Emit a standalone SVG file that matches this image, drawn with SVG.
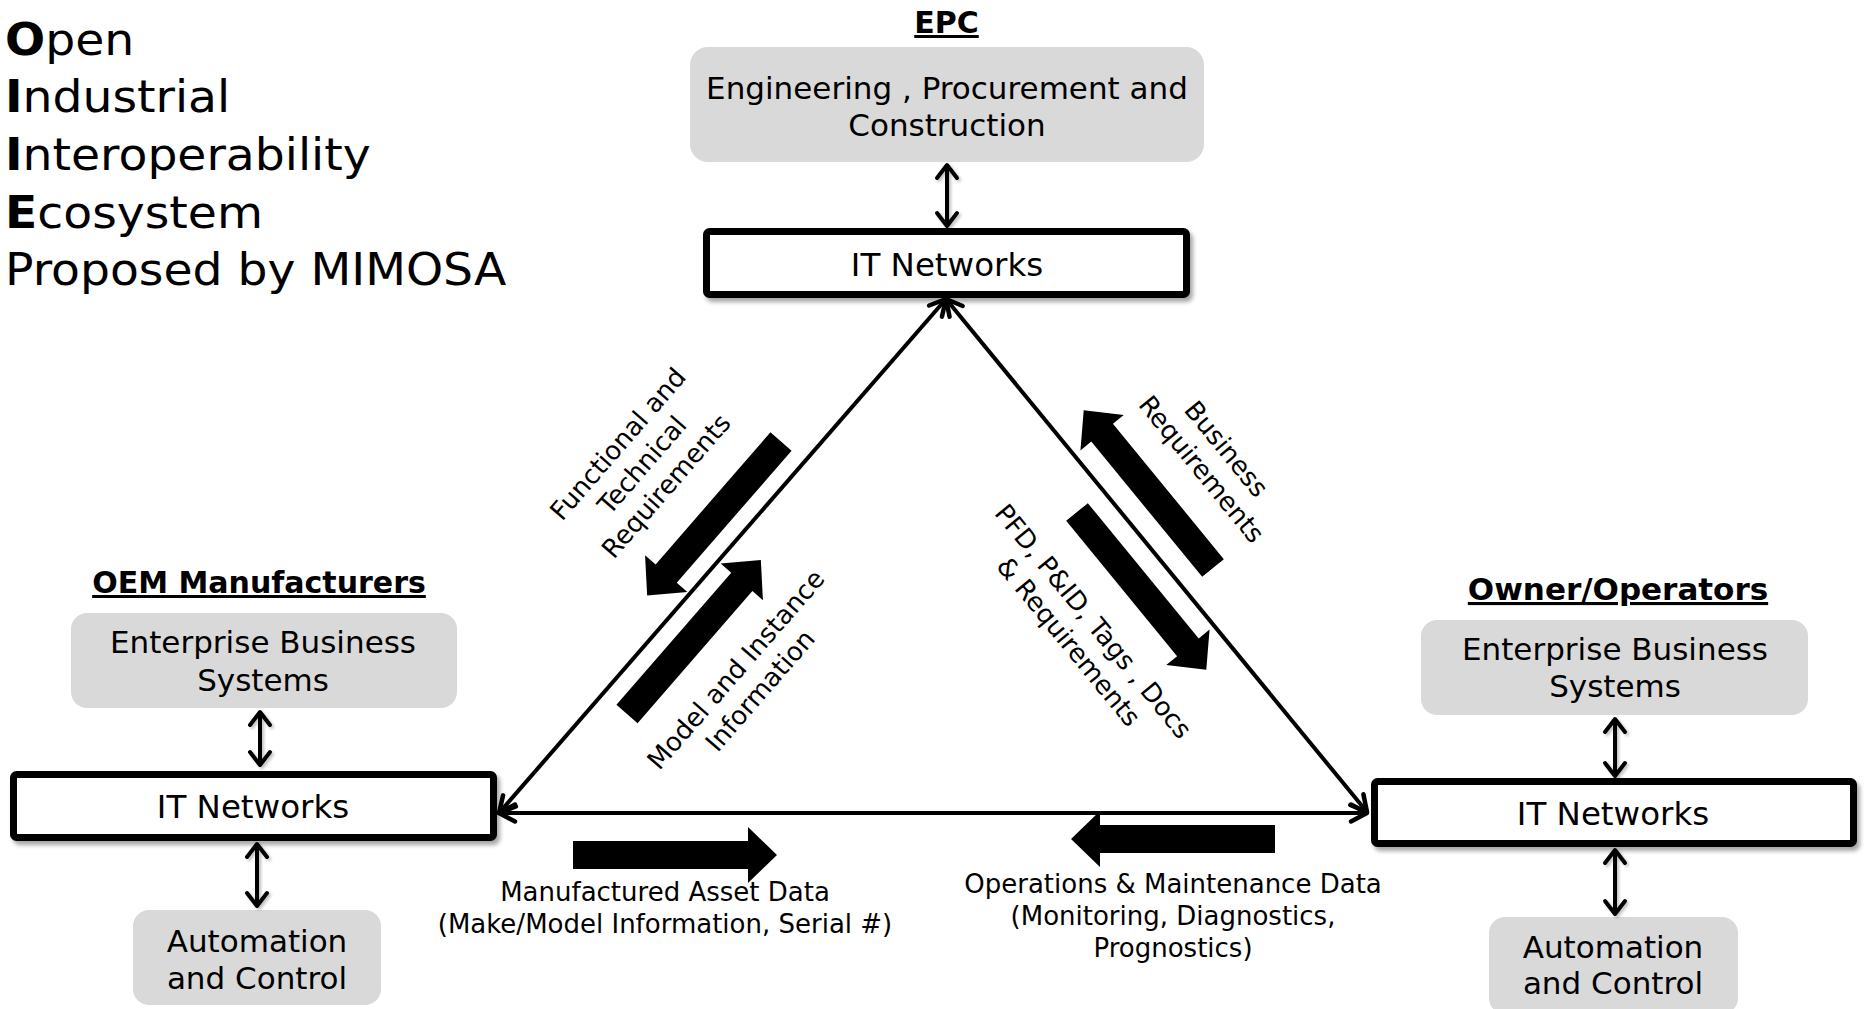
<svg xmlns="http://www.w3.org/2000/svg" width="1864" height="1009" viewBox="0 0 1864 1009">
  <defs>
    <style>
      text { font-family: "DejaVu Sans", "Noto Sans", sans-serif; fill: #000; }
      .title { font-size: 45px; }
      .title tspan.b { font-weight: bold; }
      .head { font-size: 30px; font-weight: bold; text-anchor: middle; text-decoration: underline; }
      .box { font-size: 31px; text-anchor: middle; }
      .net { font-size: 32.5px; text-anchor: middle; }
      .lbl { font-size: 26px; text-anchor: middle; }
      .gray { fill: #d9d9d9; }
      .it { fill: #fff; stroke: #000; stroke-width: 7; }
      .tri { fill: none; stroke: #000; stroke-width: 4; marker-start: url(#openBig); marker-end: url(#openBig); }
      .vert { fill: none; stroke: #000; stroke-width: 4; marker-start: url(#openSmall); marker-end: url(#openSmall); }
      .blk { fill: #000; }
    </style>
    <filter id="shadow" x="-10%" y="-30%" width="125%" height="170%">
      <feDropShadow dx="3" dy="4" stdDeviation="2" flood-color="#000" flood-opacity="0.35"/>
    </filter>
    <filter id="soft" x="-50%" y="-20%" width="200%" height="140%">
      <feDropShadow dx="2" dy="2" stdDeviation="1.5" flood-color="#000" flood-opacity="0.25"/>
    </filter>
    <marker id="openBig" markerUnits="userSpaceOnUse" viewBox="-20 -12 24 24" markerWidth="24" markerHeight="24" refX="0" refY="0" orient="auto-start-reverse">
      <path d="M-16,-8.5 L0,0 L-16,8.5" fill="none" stroke="#000" stroke-width="4.5" stroke-linecap="round" stroke-linejoin="round"/>
    </marker>
    <marker id="openSmall" markerUnits="userSpaceOnUse" viewBox="-18 -13 22 26" markerWidth="22" markerHeight="26" refX="0" refY="0" orient="auto-start-reverse">
      <path d="M-13,-10 L0,0 L-13,10" fill="none" stroke="#000" stroke-width="4" stroke-linecap="round" stroke-linejoin="round"/>
    </marker>
    <path id="blockArrow" d="M0,-14 H175 V-28 L204,0 L175,28 V14 H0 Z"/>
  </defs>

  <rect width="1864" height="1009" fill="#fff"/>

  <!-- Title -->
  <g id="title" transform="translate(5,0) scale(1.05,1)">
    <text class="title" x="0" y="55"><tspan class="b">O</tspan>pen</text>
    <text class="title" x="0" y="112"><tspan class="b">I</tspan>ndustrial</text>
    <text class="title" x="0" y="170"><tspan class="b">I</tspan>nteroperability</text>
    <text class="title" x="0" y="228"><tspan class="b">E</tspan>cosystem</text>
    <text class="title" x="0" y="285">Proposed by MIMOSA</text>
  </g>

  <!-- EPC -->
  <g id="epc">
    <text class="head" x="946.5" y="33">EPC</text>
    <g id="epc-engineering">
      <rect class="gray" x="690" y="47" width="514" height="115" rx="18"/>
      <text class="box" x="947" y="99">Engineering , Procurement and</text>
      <text class="box" x="947" y="136">Construction</text>
    </g>
    <g id="epc-it" filter="url(#shadow)">
      <rect class="it" x="706.5" y="231.5" width="480" height="63" rx="3"/>
    </g>
    <text class="net" x="947" y="276">IT Networks</text>
  </g>

  <!-- OEM Manufacturers -->
  <g id="oem">
    <text class="head" x="259" y="593">OEM Manufacturers</text>
    <g id="oem-enterprise">
      <rect class="gray" x="71" y="613" width="386" height="95" rx="16"/>
      <text class="box" x="263" y="653">Enterprise Business</text>
      <text class="box" x="263" y="691">Systems</text>
    </g>
    <g id="oem-it" filter="url(#shadow)">
      <rect class="it" x="13.5" y="774.5" width="480" height="63" rx="3"/>
    </g>
    <text class="net" x="253" y="818">IT Networks</text>
    <g id="oem-automation">
      <rect class="gray" x="133" y="910" width="248" height="95" rx="16"/>
      <text class="box" x="257" y="952">Automation</text>
      <text class="box" x="257" y="989">and Control</text>
    </g>
  </g>

  <!-- Owner/Operators -->
  <g id="owner">
    <text class="head" x="1618" y="600" style="font-size:31px">Owner/Operators</text>
    <g id="owner-enterprise">
      <rect class="gray" x="1421" y="620" width="387" height="95" rx="16"/>
      <text class="box" x="1615" y="660">Enterprise Business</text>
      <text class="box" x="1615" y="697">Systems</text>
    </g>
    <g id="owner-it" filter="url(#shadow)">
      <rect class="it" x="1374.5" y="781.5" width="479" height="62" rx="3"/>
    </g>
    <text class="net" x="1613" y="825">IT Networks</text>
    <g id="owner-automation">
      <rect class="gray" x="1489" y="917" width="249" height="97" rx="16"/>
      <text class="box" x="1613" y="958">Automation</text>
      <text class="box" x="1613" y="994">and Control</text>
    </g>
  </g>

  <!-- Connectors -->
  <g id="connectors">
    <g filter="url(#soft)">
      <line class="vert" x1="947" y1="165" x2="947" y2="226"/>
      <line class="vert" x1="260" y1="712" x2="260" y2="765"/>
      <line class="vert" x1="257" y1="844" x2="257" y2="906"/>
      <line class="vert" x1="1615" y1="719" x2="1615" y2="776"/>
      <line class="vert" x1="1615" y1="850" x2="1615" y2="914"/>
    </g>
    <line class="tri" x1="946" y1="299" x2="499" y2="813"/>
    <line class="tri" x1="946" y1="299" x2="1367" y2="812"/>
    <line class="tri" x1="499" y1="813" x2="1367" y2="813"/>
  </g>

  <!-- Flow arrows and their labels -->
  <g id="flows">
    <use href="#blockArrow" class="blk" transform="translate(781,441.5) rotate(131)"/>
    <use href="#blockArrow" class="blk" transform="translate(627,714) rotate(-49)"/>
    <use href="#blockArrow" class="blk" transform="translate(1213,568) rotate(-129.33)"/>
    <use href="#blockArrow" class="blk" transform="translate(1077,512) rotate(50.67)"/>
    <use href="#blockArrow" class="blk" transform="translate(573,855)"/>
    <use href="#blockArrow" class="blk" transform="translate(1275,839) rotate(180)"/>

    <g transform="translate(642,465) rotate(-49)">
      <text class="lbl" x="0" y="-23">Functional and</text>
      <text class="lbl" x="0" y="9">Technical</text>
      <text class="lbl" x="0" y="41">Requirements</text>
    </g>
    <g transform="translate(748,680) rotate(-49)">
      <text class="lbl" x="0" y="-7">Model and Instance</text>
      <text class="lbl" x="0" y="25">Information</text>
    </g>
    <g transform="translate(1214,459) rotate(50.67)">
      <text class="lbl" x="0" y="-7">Business</text>
      <text class="lbl" x="0" y="25">Requirements</text>
    </g>
    <g transform="translate(1081,631.5) rotate(50.67)">
      <text class="lbl" x="0" y="-7">PFD, P&amp;ID, Tags , Docs</text>
      <text class="lbl" x="0" y="25">&amp; Requirements</text>
    </g>

    <text class="lbl" x="665" y="901">Manufactured Asset Data</text>
    <text class="lbl" x="665" y="933">(Make/Model Information, Serial #)</text>

    <text class="lbl" x="1173" y="893">Operations &amp; Maintenance Data</text>
    <text class="lbl" x="1173" y="925">(Monitoring, Diagnostics,</text>
    <text class="lbl" x="1173" y="957">Prognostics)</text>
  </g>
</svg>
